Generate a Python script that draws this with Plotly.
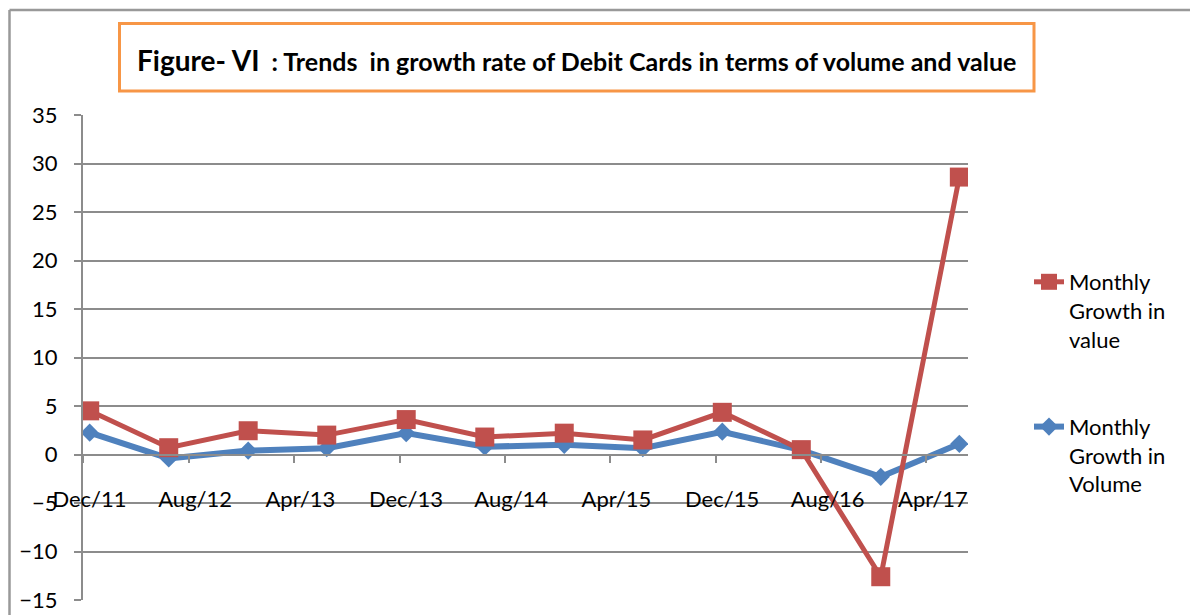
import plotly.graph_objects as go

# ---- data ----
months = ["2011-12", "2012-06", "2012-12", "2013-06", "2013-12", "2014-06",
          "2014-12", "2015-06", "2015-12", "2016-06", "2016-12", "2017-06"]
growth_value = [4.5, 0.7, 2.45, 2.0, 3.6, 1.8, 2.2, 1.5, 4.35, 0.5, -12.6, 28.6]
growth_volume = [2.25, -0.4, 0.4, 0.65, 2.2, 0.8, 1.0, 0.65, 2.35, 0.45, -2.3, 1.1]
tick_dates = ["2011-12-16", "2012-08-16", "2013-04-16", "2013-12-16", "2014-08-16",
              "2015-04-16", "2015-12-16", "2016-08-16", "2017-04-16"]
tick_marks = ["2011-12-01", "2012-08-01", "2013-04-01", "2013-12-01", "2014-08-01",
              "2015-04-01", "2015-12-01", "2016-08-01", "2017-04-01"]
tick_labels = ["Dec/11", "Aug/12", "Apr/13", "Dec/13", "Aug/14", "Apr/15",
               "Dec/15", "Aug/16", "Apr/17"]
y_ticks = [-15, -10, -5, 0, 5, 10, 15, 20, 25, 30, 35]
title_main = "Figure- VI"
title_rest = "&nbsp; : Trends &nbsp;in growth rate of Debit Cards in terms of volume and value"

RED = "#C0504D"
BLUE = "#4F81BD"
GRID = "#8C8C8C"
FONT = "Lato"

fig = go.Figure()
fig.add_trace(go.Scatter(
    x=months, y=growth_volume, mode="lines+markers",
    xperiod="M1", xperiodalignment="middle",
    name="Monthly<br>Growth in<br>Volume", legendgroup="vol", legendrank=2,
    line=dict(color=BLUE, width=6),
    marker=dict(symbol="diamond", size=14, color=BLUE),
))
fig.add_trace(go.Scatter(
    x=months, y=growth_value, mode="lines+markers",
    xperiod="M1", xperiodalignment="middle",
    name="Monthly<br>Growth in<br>value", legendgroup="val", legendrank=1,
    line=dict(color=RED, width=5),
    marker=dict(symbol="square", size=19, color=RED),
))

# plot area in pixels: left 83, right 968, top 115, bottom 600
L, R, T, B = 83, 968, 115, 600
W, H = 1190, 615
pw, ph = R - L, B - T


def px(x):
    return (x - L) / pw


def py(y):
    return (B - y) / ph


fig.update_layout(
    width=W, height=H,
    margin=dict(l=L, r=W - R, t=T, b=H - B, autoexpand=False),
    paper_bgcolor="white", plot_bgcolor="white",
    font=dict(family=FONT, size=22, color="black"),
    showlegend=True,
    legend=dict(
        x=px(1029), y=py(261), xanchor="left", yanchor="top",
        traceorder="grouped", tracegroupgap=56, valign="top",
        font=dict(size=22, family=FONT),
        bgcolor="rgba(0,0,0,0)",
    ),
    xaxis=dict(
        type="date", automargin=False,
        range=["2011-12-01", "2017-07-06"],
        anchor="free", position=15 / 50,
        tickmode="array", tickvals=tick_dates, ticktext=tick_labels,
        ticks="", ticklabelstandoff=25,
        showgrid=False, zeroline=False,
        showline=True, linecolor=GRID, linewidth=2,
        minor=dict(tickmode="array", tickvals=tick_marks, ticks="outside",
                   ticklen=7, tickwidth=2, tickcolor=GRID, showgrid=False),
        tickfont=dict(size=22, family=FONT),
    ),
    yaxis=dict(
        automargin=False,
        range=[-15, 35], tickmode="array", tickvals=y_ticks,
        ticks="outside", ticklen=7, tickwidth=2, tickcolor=GRID,
        showgrid=True, gridcolor=GRID, gridwidth=2,
        zeroline=False, showline=True, linecolor=GRID, linewidth=2,
        ticklabelstandoff=12,
        tickfont=dict(size=22, family=FONT),
    ),
)

# outer chart border (left and top edges visible)
fig.add_shape(type="line", xref="paper", yref="paper",
              x0=px(9.5), x1=px(1195), y0=py(10), y1=py(10),
              line=dict(color="#999999", width=2.5))
fig.add_shape(type="line", xref="paper", yref="paper",
              x0=px(9.5), x1=px(9.5), y0=py(10), y1=py(620),
              line=dict(color="#999999", width=2.5))

# title box
fig.add_shape(type="rect", xref="paper", yref="paper",
              x0=px(119.5), x1=px(1034), y0=py(91), y1=py(23.5),
              line=dict(color="#F79646", width=3), fillcolor="white")
fig.add_annotation(
    xref="paper", yref="paper", x=px(576.5), y=py(60),
    xanchor="center", yanchor="middle", showarrow=False,
    text=f"<b><span style='font-size:28px'>{title_main}</span>{title_rest}</b>",
    font=dict(family=FONT, size=25, color="black"),
)

fig.write_html("out.html", config={"displayModeBar": False},
               post_script="document.body.style.margin='0';")
